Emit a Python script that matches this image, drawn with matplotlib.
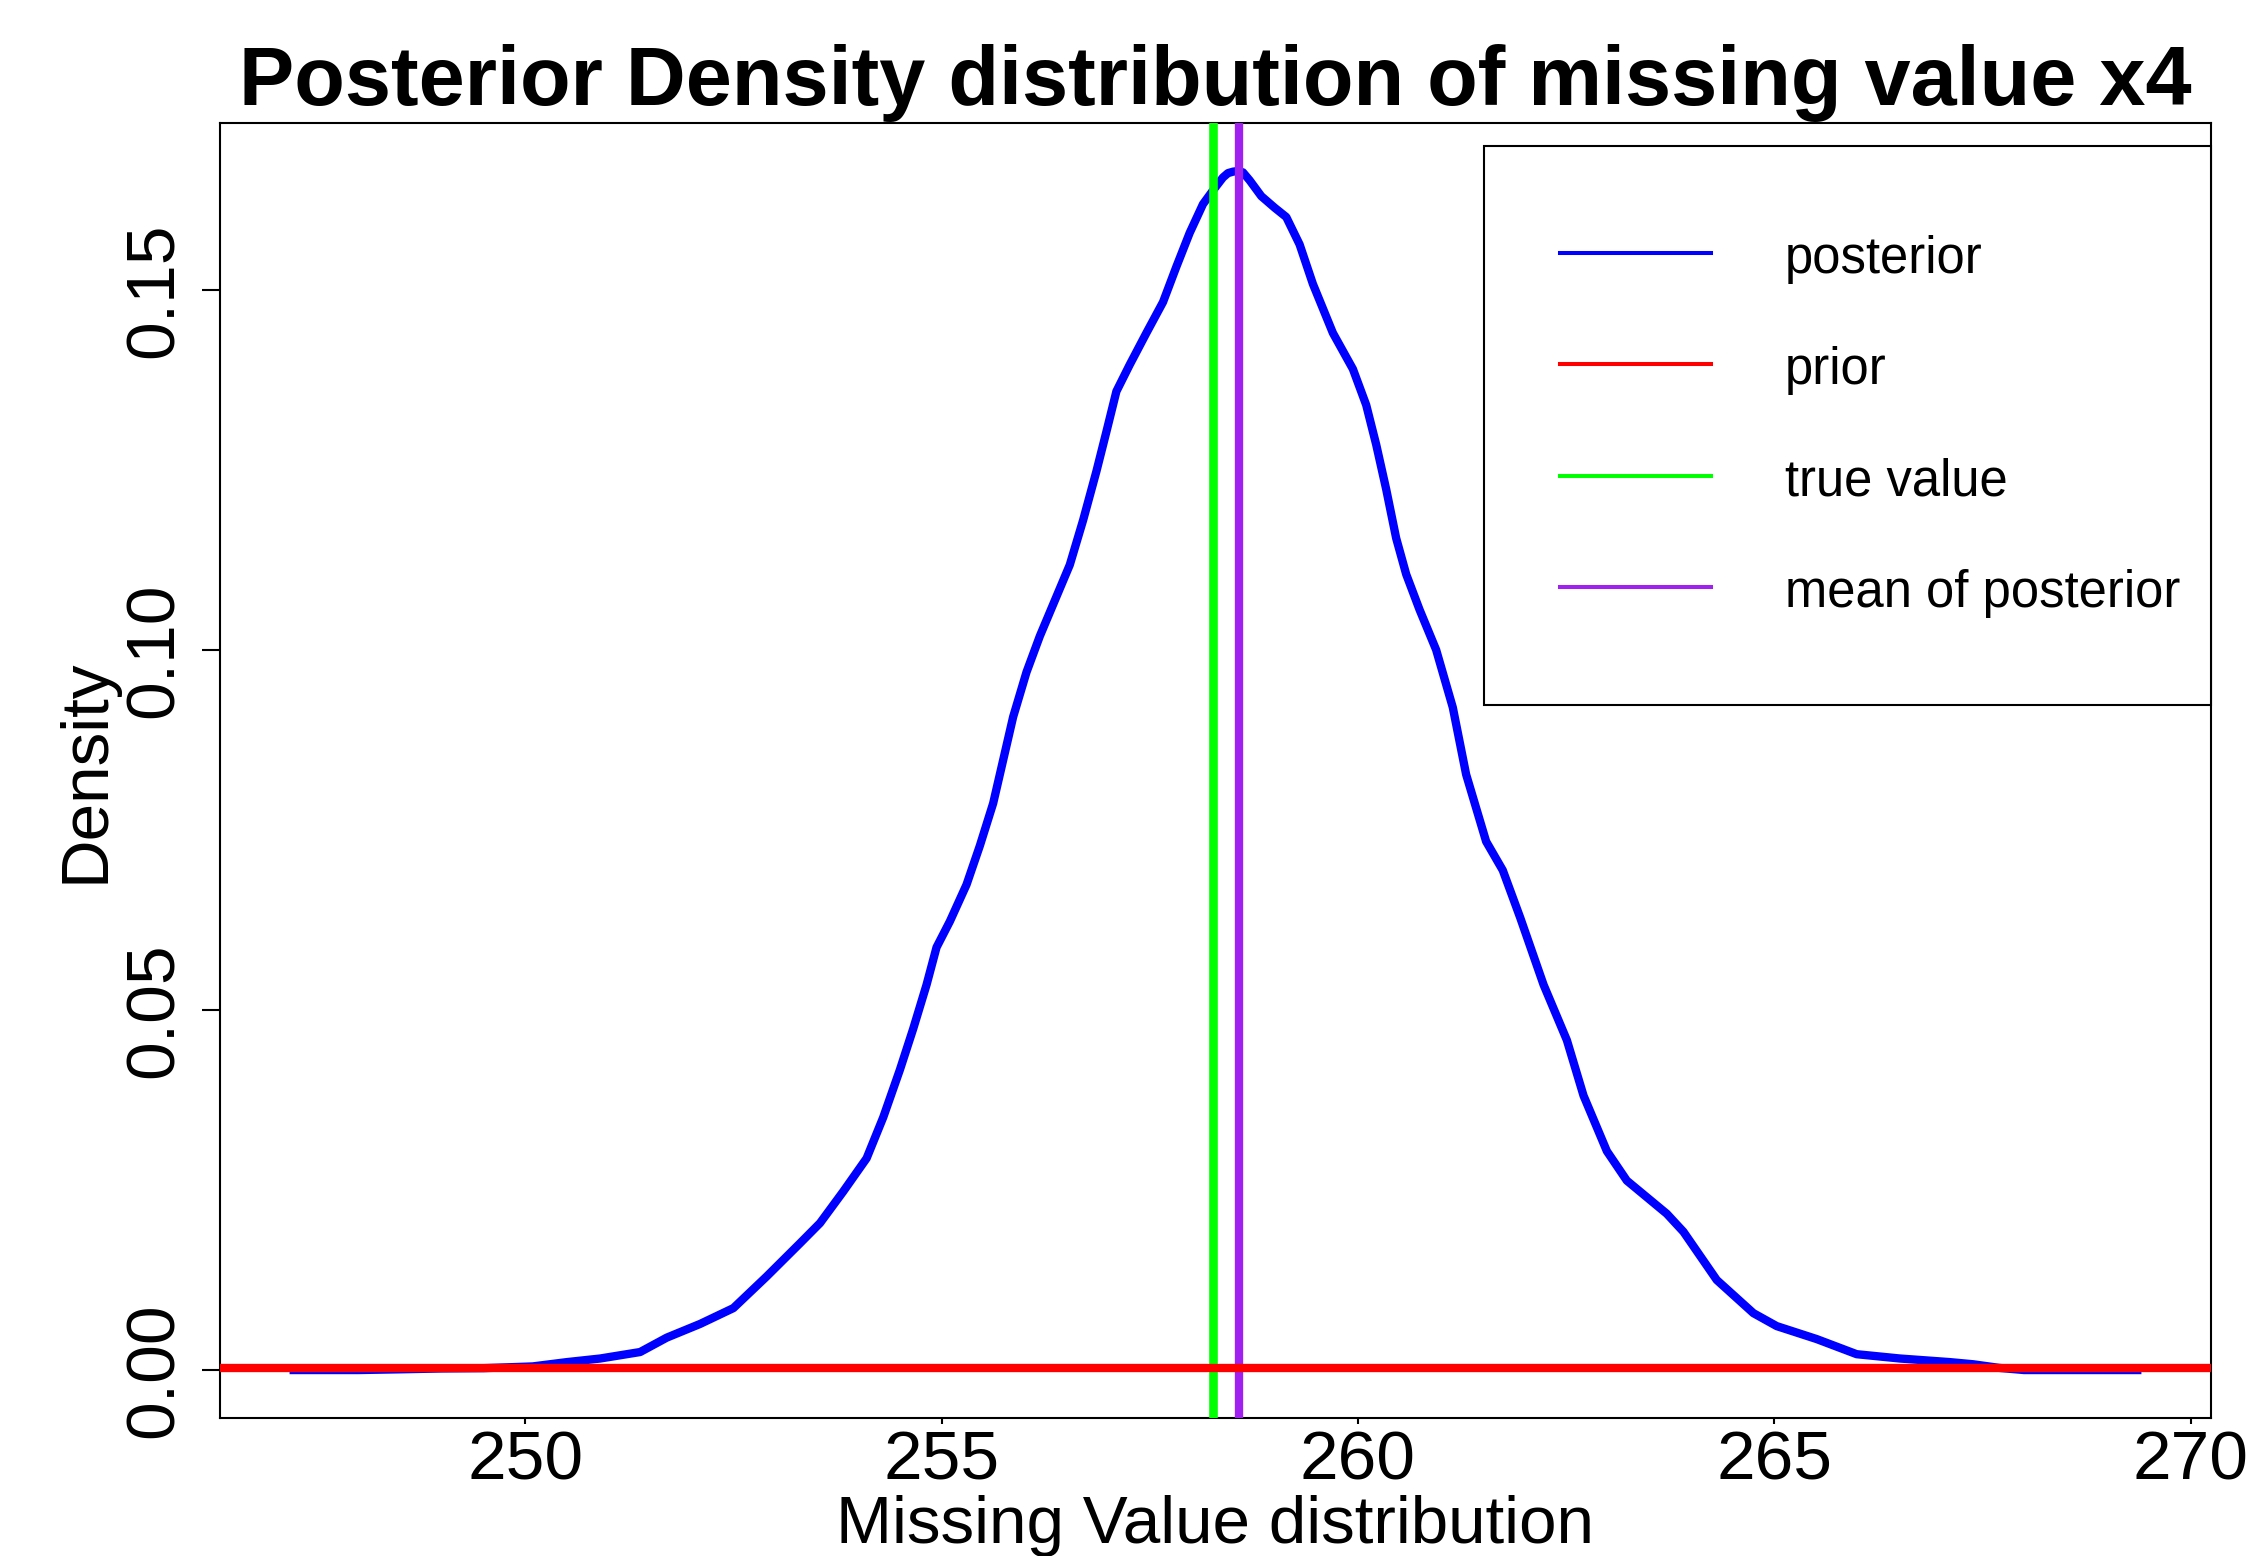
import matplotlib
matplotlib.use("Agg")
import matplotlib.pyplot as plt
from matplotlib.lines import Line2D
from matplotlib.legend_handler import HandlerLine2D

plt.rcParams["font.family"] = "Liberation Sans"

# posterior density of x4
post_x = [247.22, 248.0, 248.5, 249.0, 249.5, 250.09, 250.5, 250.9, 251.38, 251.70,
          252.10, 252.50, 252.90, 253.30, 253.54, 253.82, 254.10, 254.30, 254.50, 254.66,
          254.82, 254.94, 255.10, 255.30, 255.46, 255.62, 255.86, 256.02, 256.18, 256.38,
          256.54, 256.70, 256.86, 256.98, 257.10, 257.26, 257.46, 257.66, 257.82, 257.98,
          258.14, 258.26, 258.38, 258.44, 258.50, 258.56, 258.62, 258.70, 258.84, 259.00,
          259.14, 259.30, 259.46, 259.70, 259.94, 260.10, 260.22, 260.34, 260.46, 260.58,
          260.74, 260.94, 261.14, 261.30, 261.54, 261.74, 261.95, 262.23, 262.51, 262.71,
          262.99, 263.23, 263.71, 263.91, 264.31, 264.75, 265.03, 265.51, 265.99, 266.51,
          267.11, 267.39, 267.70, 268.0, 269.36]
post_y = [0.0, 0.0, 0.0001, 0.00022, 0.00026, 0.0005, 0.0011, 0.0016, 0.0025, 0.0045,
          0.0064, 0.0086, 0.0130, 0.0176, 0.0204, 0.0248, 0.0294, 0.0351, 0.0417, 0.0474,
          0.0535, 0.0587, 0.0623, 0.0674, 0.0728, 0.0787, 0.0907, 0.0969, 0.1019, 0.1074,
          0.1118, 0.1180, 0.1248, 0.1303, 0.1359, 0.1396, 0.1440, 0.1483, 0.1532, 0.1579,
          0.1619, 0.1638, 0.1656, 0.1662, 0.1664, 0.1665, 0.1663, 0.1652, 0.1630, 0.1614,
          0.1601, 0.1563, 0.1508, 0.1440, 0.1390, 0.1340, 0.1285, 0.1223, 0.1155, 0.1105,
          0.1056, 0.1000, 0.0920, 0.0827, 0.0734, 0.0694, 0.0628, 0.0535, 0.0458, 0.0381,
          0.0304, 0.0263, 0.0217, 0.0192, 0.0125, 0.0079, 0.0061, 0.0043, 0.0022, 0.0016,
          0.0011, 0.0008, 0.0003, 0.0, 0.0]

# very flat prior
prior_x = [240, 250, 260, 270, 280]
prior_y = [0.00024, 0.00024, 0.00024, 0.00024, 0.00024]

true_value = 258.26
post_mean = 258.57

x_ticks = [250, 255, 260, 265, 270]
y_ticks = [0.0, 0.05, 0.10, 0.15]
y_labels = ["0.00", "0.05", "0.10", "0.15"]
legend_labels = ["posterior", "prior", "true value", "mean of posterior"]
colors = ["#0000FF", "#FF0000", "#00FF00", "#A020F0"]

fig = plt.figure(figsize=(22.51, 15.56), dpi=100)
ax = fig.add_axes([0.09773, 0.08869, 0.88450, 0.83226])

ax.plot(post_x, post_y, color=colors[0], lw=6.0, zorder=2)
ax.axvline(true_value, color=colors[2], lw=6.2, zorder=3)
ax.axvline(post_mean, color=colors[3], lw=6.0, zorder=4)
ax.plot(prior_x, prior_y, color=colors[1], lw=6.0, zorder=5)

# R style 4% padding on the data range
xr = max(post_x) - min(post_x)
ax.set_xlim(min(post_x) - 0.04 * xr, max(post_x) + 0.04 * xr)
yr = max(post_y) - min(post_y)
ax.set_ylim(min(post_y) - 0.04 * yr, max(post_y) + 0.04 * yr)

ax.set_xticks(x_ticks)
ax.set_xticklabels([str(t) for t in x_ticks])
ax.set_yticks(y_ticks)
ax.set_yticklabels(y_labels)

ax.tick_params(axis="x", length=4.3, width=1.5, pad=4.3, labelsize=50)
ax.tick_params(axis="y", length=13, width=1.5, pad=10.8, labelsize=50, labelrotation=90)
for lbl in ax.get_yticklabels():
    lbl.set_va("center")

for sp in ax.spines.values():
    sp.set_linewidth(1.5)
    sp.set_color("black")

ax.set_title("Posterior Density distribution of missing value x4",
             fontsize=59.7, fontweight="bold", pad=13)
ax.set_xlabel("Missing Value distribution", fontsize=48.5)
ax.xaxis.set_label_coords(0.5, -0.0595)
ax.set_ylabel("Density", fontsize=48.5)
ax.yaxis.set_label_coords(-0.0515, 0.5)

handles = [Line2D([0], [0], color=c, lw=2.9) for c in colors]
leg = ax.legend(handles, legend_labels, loc="upper left",
                bbox_to_anchor=(0.635, 0.0, 0.365, 0.9826), mode="expand",
                borderaxespad=0, fontsize=36.5, borderpad=1.72,
                handlelength=2.75, handletextpad=1.46, handleheight=1.0,
                labelspacing=1.19, fancybox=False, framealpha=1, edgecolor="black",
                handler_map={Line2D: HandlerLine2D(xpad=-0.217)})
leg.get_frame().set_linewidth(1.5)
leg.set_zorder(10)

fig.savefig("out.png", dpi=100)
